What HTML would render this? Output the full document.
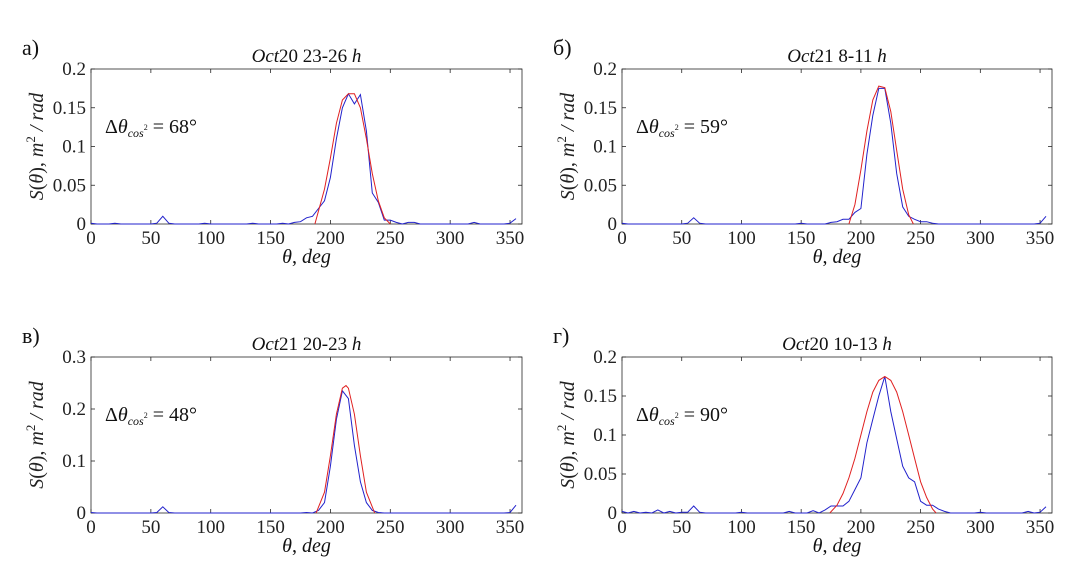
<!DOCTYPE html>
<html><head><meta charset="utf-8">
<style>
html,body{margin:0;padding:0;background:#fff;}
svg, svg text, svg tspan{font-family:"Times New Roman","Liberation Serif","DejaVu Serif",Times,serif !important;}
</style></head>
<body>
<svg id="fig" width="1082" height="582" viewBox="0 0 1082 582"></svg>
<script>
const xTicks = [0,50,100,150,200,250,300,350];
const yTicksA = [0,0.05,0.1,0.15,0.2];
const yTicksC = [0,0.1,0.2,0.3];
const yTickLabelsA = ["0","0.05","0.1","0.15","0.2"];
const yTickLabelsC = ["0","0.1","0.2","0.3"];
const angles = [];
for (let a = 0; a <= 355; a += 5) angles.push(a);
const blueA = [[0,0.001],[20,0.001],[55,0.001],[60,0.01],[65,0.001],[95,0.001],[135,0.001],[160,0.001],[170,0.002],[175,0.003],[180,0.008],[185,0.01],[190,0.02],[195,0.03],[200,0.06],[205,0.11],[210,0.15],[215,0.168],[220,0.155],[225,0.167],[230,0.12],[235,0.04],[240,0.028],[245,0.005],[250,0.005],[255,0.002],[265,0.002],[270,0.002],[275,0],[320,0.002],[350,0.001],[355,0.007]];
const redA = [[187,0],[195,0.045],[200,0.085],[205,0.13],[210,0.16],[215,0.168],[220,0.168],[225,0.15],[230,0.11],[235,0.065],[240,0.03],[245,0.008],[250,0]];
const blueB = [[0,0.001],[55,0.001],[60,0.008],[65,0.001],[150,0.001],[175,0.002],[180,0.003],[185,0.006],[190,0.006],[195,0.015],[200,0.02],[205,0.09],[210,0.14],[215,0.175],[220,0.175],[225,0.13],[230,0.065],[235,0.022],[240,0.01],[245,0.006],[250,0.003],[255,0.003],[260,0.001],[350,0.001],[355,0.01]];
const redB = [[190,0],[195,0.025],[200,0.07],[205,0.12],[210,0.16],[215,0.178],[220,0.176],[225,0.145],[230,0.095],[235,0.045],[240,0.012],[244,0]];
const blueC = [[0,0.001],[55,0.001],[60,0.012],[65,0.001],[180,0.001],[190,0.005],[195,0.02],[200,0.09],[205,0.18],[210,0.235],[215,0.22],[220,0.13],[225,0.06],[230,0.02],[235,0.005],[240,0.001],[350,0.001],[355,0.015]];
const redC = [[188,0],[195,0.04],[200,0.11],[205,0.19],[210,0.24],[213,0.245],[215,0.24],[220,0.19],[225,0.11],[230,0.04],[237,0]];
const blueD = [[0,0.002],[10,0.002],[20,0.001],[30,0.004],[40,0.002],[50,0.001],[55,0.001],[60,0.009],[65,0.001],[100,0.001],[140,0.002],[160,0.003],[170,0.004],[175,0.009],[180,0.009],[185,0.009],[190,0.015],[195,0.03],[200,0.045],[205,0.09],[210,0.12],[215,0.15],[220,0.175],[225,0.13],[230,0.095],[235,0.06],[240,0.045],[245,0.04],[250,0.015],[255,0.01],[260,0.01],[265,0.005],[270,0.002],[300,0.001],[340,0.002],[350,0.001],[355,0.008]];
const redD = [[174,0],[180,0.01],[185,0.025],[190,0.045],[195,0.07],[200,0.1],[205,0.13],[210,0.155],[215,0.17],[220,0.175],[225,0.17],[230,0.155],[235,0.13],[240,0.1],[245,0.07],[250,0.04],[255,0.02],[260,0.005],[263,0]];

const NS = "http://www.w3.org/2000/svg";
const svg = document.getElementById("fig");
function mk(tag, attrs, parent){
  const e = document.createElementNS(NS, tag);
  for (const k in attrs) e.setAttribute(k, attrs[k]);
  (parent||svg).appendChild(e);
  return e;
}
function panel(p){
  const g = mk("g", {});
  
  
  const L=p.x0, R=p.x1, T=p.y0, B=p.y1;
  const sx = v => L + (v/360)*(R-L);
  const sy = v => B - (v/p.ymax)*(B-T);
  const box = mk("rect",{x:L,y:T,width:R-L,height:B-T,fill:"#fff",stroke:"#262626","stroke-width":0.8},g);
  
  
  xTicks.forEach(t=>{
    const x = sx(t);
    mk("line",{x1:x,y1:B,x2:x,y2:B-4,stroke:"#262626","stroke-width":0.8},g);
    mk("line",{x1:x,y1:T,x2:x,y2:T+4,stroke:"#262626","stroke-width":0.8},g);
    const tx = mk("text",{x:x,y:B+20,"font-size":19,"text-anchor":"middle",fill:"#222"},g);
    tx.textContent = t;
    
    
  });
  p.yt.forEach((t,i)=>{
    const y = sy(t);
    mk("line",{x1:L,y1:y,x2:L+4,y2:y,stroke:"#262626","stroke-width":0.8},g);
    mk("line",{x1:R,y1:y,x2:R-4,y2:y,stroke:"#262626","stroke-width":0.8},g);
    const tx = mk("text",{x:L-5,y:y+6,"font-size":19,"text-anchor":"end",fill:"#222"},g);
    tx.textContent = p.yl[i];
    
    
  });
  const map = {}; p.blue.forEach(d=>map[d[0]]=d[1]);
  const bpts = angles.map(a=>[a, map[a]!==undefined?map[a]:0]);
  const bl = mk("polyline",{points:bpts.map(d=>sx(d[0]).toFixed(1)+","+sy(d[1]).toFixed(1)).join(" "),fill:"none",stroke:"#2222cc","stroke-width":1},g);
  
  
  const rl = mk("polyline",{points:p.red.map(d=>sx(d[0]).toFixed(1)+","+sy(d[1]).toFixed(1)).join(" "),fill:"none",stroke:"#e02020","stroke-width":1},g);
  
  
  const ti = mk("text",{x:(L+R)/2,y:T-7,"font-size":19,"text-anchor":"middle",fill:"#111"},g);
  ti.innerHTML = '<tspan font-style="italic">Oct</tspan>'+p.day+' '+p.hrs+' <tspan font-style="italic">h</tspan>';
  
  
  const lb = mk("text",{x:L-69,y:T-14,"font-size":22,fill:"#111"},g);
  lb.textContent = p.label;
  
  
  const xl = mk("text",{x:(L+R)/2,y:B+39,"font-size":20,"text-anchor":"middle",fill:"#111","font-style":"italic"},g);
  xl.innerHTML = 'θ<tspan font-style="normal">, </tspan>deg';
  
  
  const cy = (T+B)/2;
  const yl = mk("text",{x:0,y:0,"font-size":20,"text-anchor":"middle",fill:"#222","font-style":"italic",transform:"translate("+(L-48)+","+cy+") rotate(-90)"},g);
  yl.innerHTML = 'S<tspan font-style="normal">(</tspan>θ<tspan font-style="normal">), </tspan>m<tspan dy="-8" font-size="13" font-style="normal">2</tspan><tspan dy="8"> / rad</tspan>';
  
  
  const an = mk("text",{x:L+14,y:T+64,"font-size":20,fill:"#111"},g);
  an.innerHTML = 'Δ<tspan font-style="italic">θ</tspan><tspan font-size="12" dy="4" font-style="italic">cos</tspan><tspan font-size="8" dy="-7">2</tspan><tspan dy="3"> = '+p.dt+'°</tspan>';
  
  
}
panel({name:"panel-a",x0:91,x1:522,y0:69,y1:224,ymax:0.2,yt:yTicksA,yl:yTickLabelsA,blue:blueA,red:redA,day:"20",hrs:"23-26",label:"а)",dt:68});
panel({name:"panel-b",x0:622,x1:1052,y0:69,y1:224,ymax:0.2,yt:yTicksA,yl:yTickLabelsA,blue:blueB,red:redB,day:"21",hrs:"8-11",label:"б)",dt:59});
panel({name:"panel-c",x0:91,x1:522,y0:357,y1:513,ymax:0.3,yt:yTicksC,yl:yTickLabelsC,blue:blueC,red:redC,day:"21",hrs:"20-23",label:"в)",dt:48});
panel({name:"panel-d",x0:622,x1:1052,y0:357,y1:513,ymax:0.2,yt:yTicksA,yl:yTickLabelsA,blue:blueD,red:redD,day:"20",hrs:"10-13",label:"г)",dt:90});
</script>
</body></html>
